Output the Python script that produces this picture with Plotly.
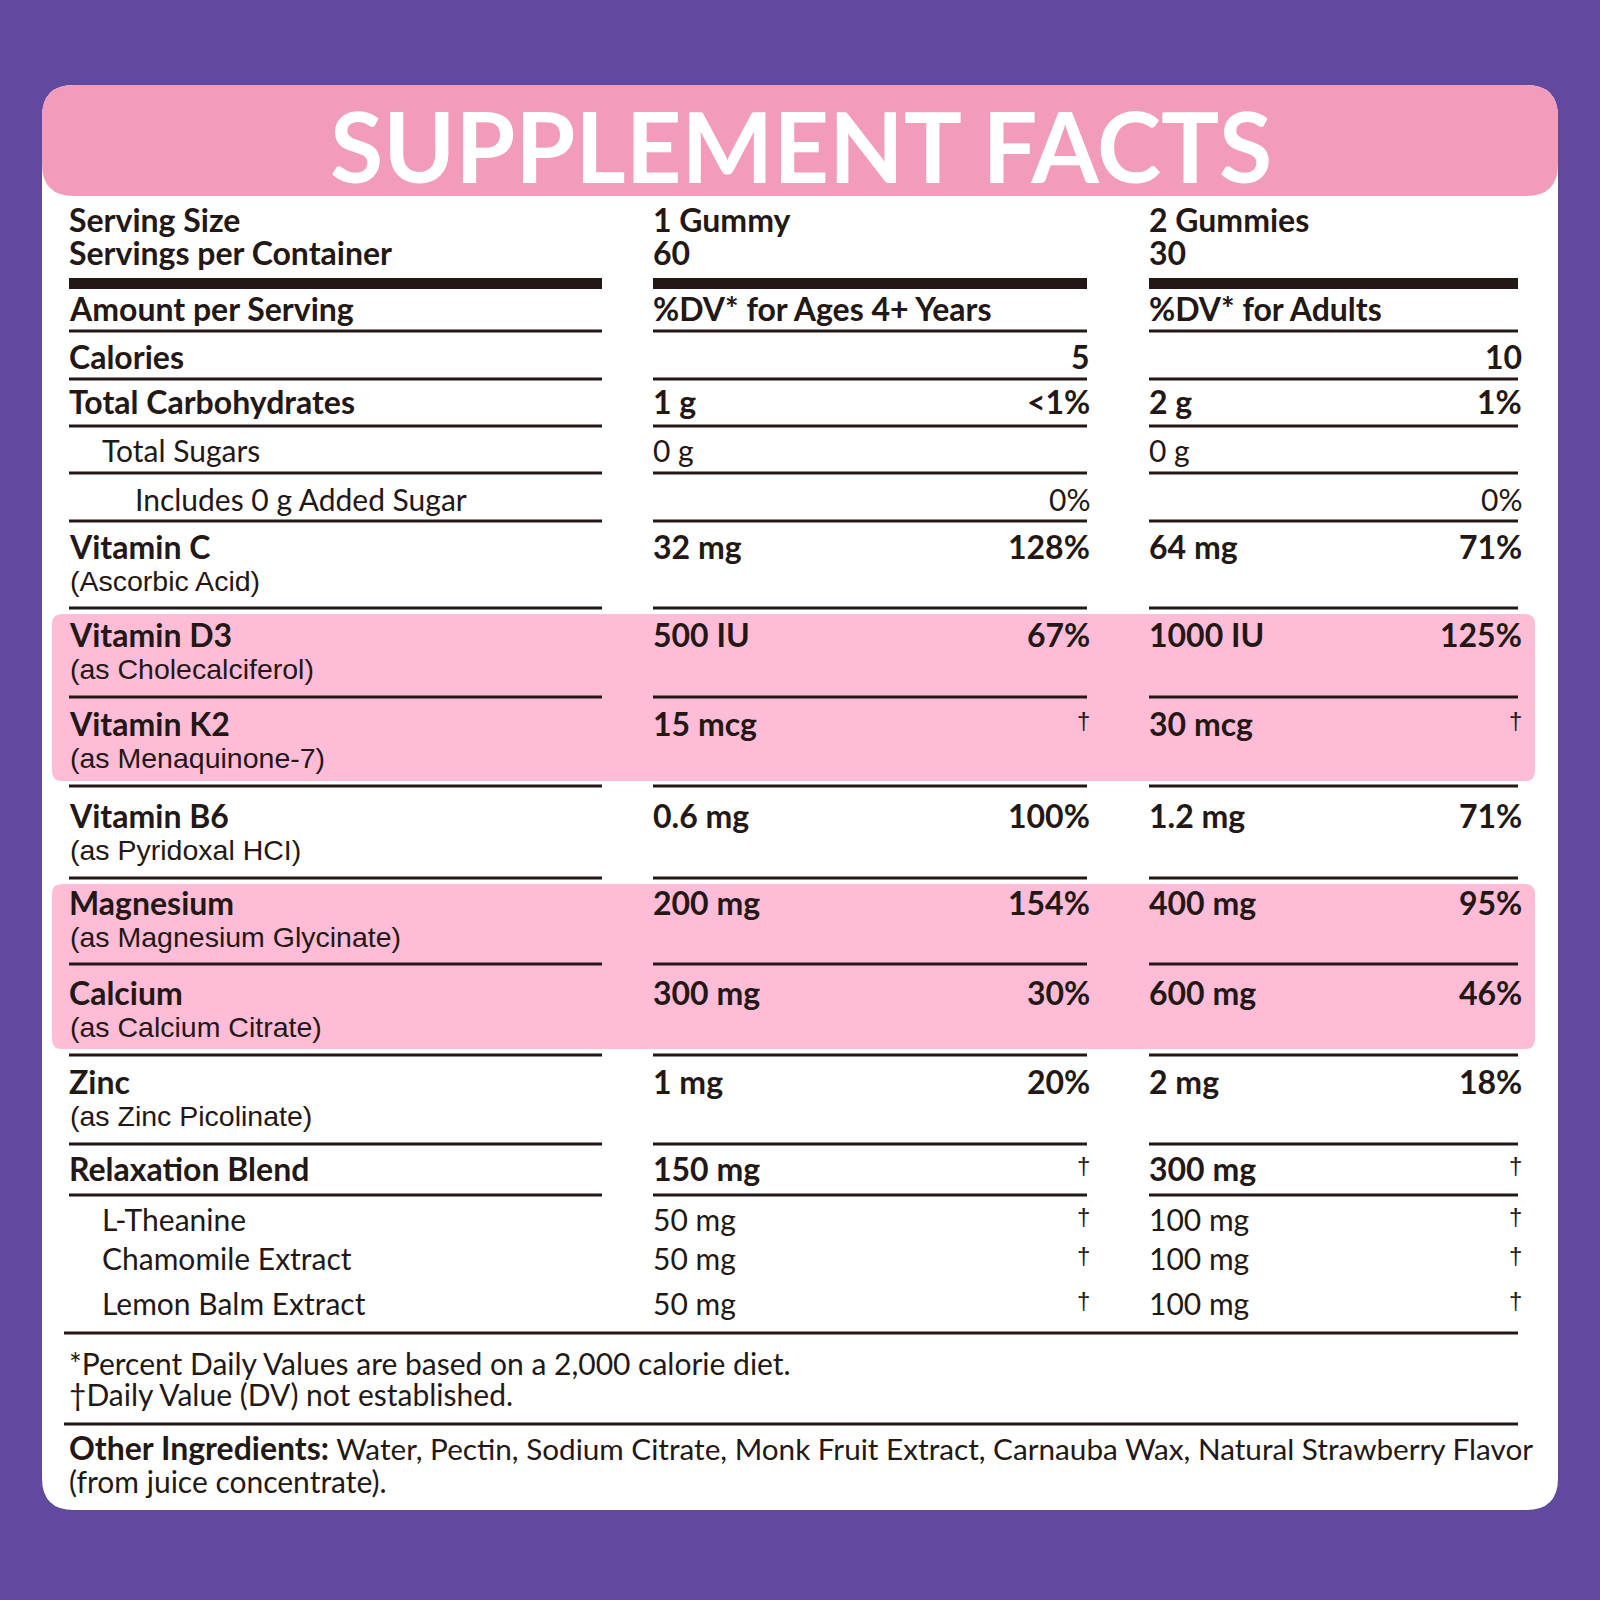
import plotly.graph_objects as go

### data
title_text = "SUPPLEMENT FACTS"
header_left = ["Serving Size", "Servings per Container"]
header_kids = ["1 Gummy", "60"]
header_adults = ["2 Gummies", "30"]
amount_labels = ["Amount per Serving", "%DV* for Ages 4+ Years", "%DV* for Adults"]

nutrients = ["Calories", "Total Carbohydrates", "Total Sugars", "Includes 0 g Added Sugar",
             "Vitamin C", "Vitamin D3", "Vitamin K2", "Vitamin B6", "Magnesium", "Calcium",
             "Zinc", "Relaxation Blend", "L-Theanine", "Chamomile Extract", "Lemon Balm Extract"]
sources = ["", "", "", "", "(Ascorbic Acid)", "(as Cholecalciferol)", "(as Menaquinone-7)",
           "(as Pyridoxal HCI)", "(as Magnesium Glycinate)", "(as Calcium Citrate)",
           "(as Zinc Picolinate)", "", "", "", ""]
kid_amount = ["", "1 g", "0 g", "", "32 mg", "500 IU", "15 mcg", "0.6 mg", "200 mg", "300 mg",
              "1 mg", "150 mg", "50 mg", "50 mg", "50 mg"]
kid_dv = ["5", "<1%", "", "0%", "128%", "67%", "†", "100%", "154%", "30%", "20%", "†", "†", "†", "†"]
adult_amount = ["", "2 g", "0 g", "", "64 mg", "1000 IU", "30 mcg", "1.2 mg", "400 mg", "600 mg",
                "2 mg", "300 mg", "100 mg", "100 mg", "100 mg"]
adult_dv = ["10", "1%", "", "0%", "71%", "125%", "†", "71%", "95%", "46%", "18%", "†", "†", "†", "†"]
indent = [0, 0, 1, 2, 0, 0, 0, 0, 0, 0, 0, 0, 1, 1, 1]

footnotes = ["*Percent Daily Values are based on a 2,000 calorie diet.",
             "†Daily Value (DV) not established."]
other_label = "Other Ingredients:"
other_text = " Water, Pectin, Sodium Citrate, Monk Fruit Extract, Carnauba Wax, Natural Strawberry Flavor"
other_text2 = "(from juice concentrate)."

### layout bits
PURPLE = "#614a9d"
HEADER_PINK = "#f29bbb"
BAND_PINK = "#ffbcd7"
INK = "#231815"
FONT = "Lato"
SUB_FONT = "Liberation Sans"
FS_BOLD = 32
FS_REG = 30

row_y = [356, 401, 450, 499, 546, 634, 723, 815, 902, 992, 1081, 1168, 1219, 1258, 1303]
sub_offset = 35
rule_y = [331, 379, 426, 473, 521, 608, 697, 786, 878, 964, 1055, 1144, 1195]
cols = [(69, 602), (653, 1087), (1149, 1518)]
bands = [(614, 781), (884, 1049)]
TX = -2   # small nudge for Lato side bearing


def rounded(x0, y0, x1, y1, r):
    return (f"M {x0+r},{y0} L {x1-r},{y0} Q {x1},{y0} {x1},{y0+r} "
            f"L {x1},{y1-r} Q {x1},{y1} {x1-r},{y1} L {x0+r},{y1} "
            f"Q {x0},{y1} {x0},{y1-r} L {x0},{y0+r} Q {x0},{y0} {x0+r},{y0} Z")


shapes = []
shapes.append(dict(type="path", path=rounded(42, 85, 1558, 1510, 32),
                   fillcolor="white", line=dict(width=0), layer="below"))
shapes.append(dict(type="path", path=rounded(42, 85, 1558, 196, 32),
                   fillcolor=HEADER_PINK, line=dict(width=0), layer="below"))
for y0, y1 in bands:
    shapes.append(dict(type="path", path=rounded(52, y0, 1535, y1, 10),
                       fillcolor=BAND_PINK, line=dict(width=0), layer="below"))

# thick bar under servings, thin rules per column
for x0, x1 in cols:
    shapes.append(dict(type="rect", x0=x0, x1=x1, y0=278, y1=289,
                       fillcolor=INK, line=dict(width=0)))
    for y in rule_y:
        shapes.append(dict(type="line", x0=x0, x1=x1, y0=y, y1=y,
                           line=dict(color=INK, width=3)))
for y in [1333, 1424]:
    shapes.append(dict(type="line", x0=64, x1=1518, y0=y, y1=y,
                       line=dict(color=INK, width=3)))

ann = []


def txt(x, y, s, anchor="left", bold=False, size=None, family=FONT, color=INK):
    if not s:
        return
    if s == "†":
        # thin dagger, sits a bit high like the print
        family, size, bold, y = SUB_FONT, 24, False, y - 3
    if size is None:
        size = FS_BOLD if bold else FS_REG
    ann.append(dict(x=x, y=y, xref="x", yref="y", text=f"<b>{s}</b>" if bold else s,
                    showarrow=False, xanchor=anchor, yanchor="middle",
                    font=dict(family=family, size=size, color=color)))


txt(801, 145, title_text, anchor="center", bold=True, size=97, color="white")

for i, y in enumerate([219, 252]):
    txt(cols[0][0] + TX, y, header_left[i], bold=True)
    txt(cols[1][0] + TX, y, header_kids[i], bold=True)
    txt(cols[2][0] + TX, y, header_adults[i], bold=True)

txt(cols[0][0] + TX, 308, amount_labels[0], bold=True)
txt(cols[1][0] + TX, 308, amount_labels[1], bold=True)
txt(cols[2][0] + TX, 308, amount_labels[2], bold=True)

for i, name in enumerate(nutrients):
    y = row_y[i]
    b = indent[i] == 0
    txt(cols[0][0] + TX + 33 * indent[i], y, name, bold=b)
    txt(cols[0][0] - 1, y + sub_offset, sources[i], size=28.5, family=SUB_FONT)
    txt(cols[1][0] + TX, y, kid_amount[i], bold=b)
    txt(cols[1][1] + 5, y, kid_dv[i], anchor="right", bold=b)
    txt(cols[2][0] + TX, y, adult_amount[i], bold=b)
    txt(cols[2][1] + 6, y, adult_dv[i], anchor="right", bold=b)

txt(69 + TX, 1363, footnotes[0])
txt(69 + TX, 1394, footnotes[1])
txt(69 + TX, 1447, f"<span style='font-size:{FS_BOLD}px'><b>{other_label}</b></span>{other_text}",
    size=29.7)
txt(69 + TX, 1481, other_text2)

fig = go.Figure()
fig.update_layout(
    width=1600, height=1600,
    margin=dict(l=0, r=0, t=0, b=0),
    paper_bgcolor=PURPLE, plot_bgcolor=PURPLE,
    xaxis=dict(range=[0, 1600], visible=False, fixedrange=True),
    yaxis=dict(range=[1600, 0], visible=False, fixedrange=True),
    shapes=shapes, annotations=ann, showlegend=False,
)
fig.write_html("out.html", config=dict(displayModeBar=False),
               post_script="document.body.style.margin='0';")
